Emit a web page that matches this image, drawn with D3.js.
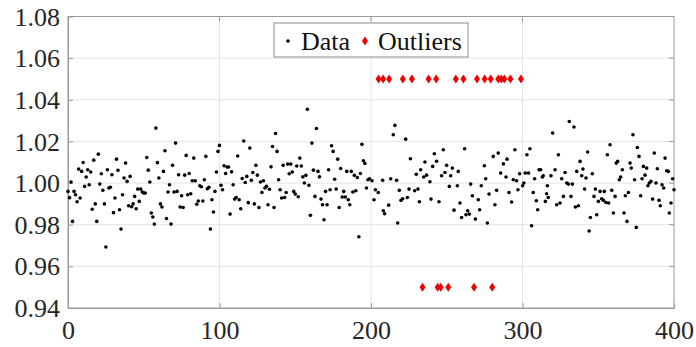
<!DOCTYPE html>
<html><head><meta charset="utf-8">
<script src="https://cdn.jsdelivr.net/npm/d3@7"></script>
<style>html,body{margin:0;padding:0;background:#fff}
svg text{font-family:"Liberation Serif","Times New Roman","DejaVu Serif",serif}</style>
</head><body>
<svg id="c" width="696" height="347"></svg>
<script>
// values for x = 0..199 (one per index)
const dataValues = [
0.996,0.993,1.0005,0.9816,0.996,0.9944,0.991,1.0067,0.9928,1.0056,
1.0099,0.9984,1.0029,1.0064,0.9992,1.0053,0.9874,1.011,0.990,0.9816,
1.0139,0.9995,1.0045,0.9965,0.990,0.9693,1.0064,0.9976,0.998,1.004,
0.9858,0.9928,1.0115,1.0061,0.9872,0.9779,0.9944,1.0024,1.0096,1.0008,
0.9891,1.0032,0.9886,0.990,0.9936,0.9877,0.9971,0.9912,0.9971,0.9957,
0.9952,0.9952,1.0123,1.0062,1.0005,0.9856,0.9837,0.9803,1.0264,1.0098,
1.0024,0.990,0.9885,1.0056,1.0155,0.983,0.9957,0.9992,0.9803,1.0085,
0.9957,1.0192,0.996,1.004,0.9885,0.9939,0.9883,1.0038,1.0133,0.9944,
1.0046,0.9949,1.0011,1.012,1.0011,0.9898,0.9914,0.9987,0.9982,0.9914,
1.0016,1.0128,0.9973,0.998,0.9779,0.992,0.9861,0.996,1.0053,1.0152,
1.0181,
0.9989,0.9968,1.0083,1.0046,1.0077,1.0077,0.9851,1.0054,0.9992,0.9923,
0.9931,1.013,0.992,0.9877,1.0022,1.0202,1.0003,1.0032,0.9906,1.0168,
1.0013,1.0051,0.990,1.0085,1.0038,0.9883,1.0005,0.9955,1.0011,0.9976,
0.9984,0.9896,0.997,1.0078,1.0176,0.9883,1.0238,1.0152,1.0016,0.9968,
0.9928,1.0085,0.9931,0.9955,1.0091,1.0045,1.0091,1.0053,0.996,0.9947,
1.0082,0.9934,1.012,1.0082,1.003,1.000,1.0037,1.0354,0.9989,0.9845,
1.0192,1.0062,0.9936,1.0262,1.0056,1.003,0.9923,0.9896,0.9824,0.996,
0.9896,1.0064,0.9968,1.0179,1.0152,1.0018,0.9971,1.0115,0.9883,1.007,
0.9933,0.996,0.9933,1.0056,0.992,0.9896,1.0056,0.9957,1.0037,0.9963,
1.0027,0.9742,1.0046,1.0186,1.0107,1.0094,0.9976,1.0016,1.0021
];
// second half, read with explicit x positions
const restX = [200.7,202.0,202.9,204.8,207.7,208.1,209.0,211.7,213.0,214.7,215.8,216.9,217.6,218.7,219.8,220.9,222.9,224.0,225.1,226.0,
228.8,229.9,231.0,231.9,232.8,234.8,235.6,236.7,238.9,239.6,240.7,241.8,243.3,244.9,246.6,247.7,248.8,249.9,251.7,252.6,
253.7,254.8,257.0,257.6,258.7,259.8,261.8,262.7,263.8,264.9,265.8,266.9,268.9,270.8,271.7,272.8,274.8,275.7,276.8,277.9,
280.7,281.8,282.9,284.0,285.6,287.4,289.1,289.8,291.1,292.8,293.9,295.0,296.1,297.0,298.1,300.1,300.9,301.8,302.9,304.0,
304.9,306.0,307.1,308.0,309.1,310.0,310.9,312.0,313.1,313.7,315.1,315.9,316.4,317.0,318.8,319.9,321.5,322.6,323.7,324.8,
325.9,327.0,328.1,329.2,330.3,330.9,332.0,332.9,334.0,334.9,335.8,336.9,338.0,339.1,339.9,341.0,341.9,343.0,344.0,344.8,
346.1,347.2,348.1,349.0,350.1,351.2,352.3,353.4,354.0,355.1,356.0,356.9,357.8,358.9,360.0,361.1,361.9,362.8,363.9,364.8,
365.9,367.0,367.9,369.0,369.9,371.0,371.8,372.9,374.0,375.1,375.8,376.9,378.0,378.9,379.8,380.9,382.0,382.8,383.7,384.8,
385.9,387.0,388.1,389.0,390.1,391.0,392.1,393.2,394.1,395.2,396.3,396.9,398.0,399.1,400.0];
const restY = [1.0011,0.992,0.9968,0.9955,1.0013,0.9867,0.9853,0.9894,1.0021,1.0232,1.0277,1.0013,0.9808,0.9965,0.9917,0.9925,1.0211,0.9931,0.9971,1.0117,
0.9963,1.0042,0.9971,0.991,1.0064,1.0029,1.0101,1.0038,1.0006,0.9923,1.008,1.0141,1.0105,0.991,1.0035,1.016,1.0051,1.0085,0.9984,1.0035,
1.0072,0.987,0.9987,1.0056,0.9904,0.9835,1.0165,0.9848,0.9867,0.9851,0.9995,0.9939,0.9827,0.992,0.9872,0.9987,1.0083,1.0021,0.9808,0.9947,
1.0128,0.9896,0.9965,1.0144,1.0048,1.0092,1.0029,1.0115,0.9955,0.9909,1.0016,1.016,1.0011,0.9968,1.0045,0.9987,1.000,1.0048,1.0136,1.0048,
1.0165,0.9795,0.9955,1.0021,0.9915,0.9872,1.0064,1.0064,1.0029,1.0035,0.9912,0.9949,0.9987,0.9931,1.0035,1.024,1.0064,0.9896,1.0136,0.9904,
1.0021,0.9936,1.0051,1.000,0.9995,1.0296,0.9936,0.9995,1.0269,0.9885,1.0056,0.9891,1.0104,1.0035,1.0067,0.9971,1.0024,1.0149,0.977,0.9835,
1.0045,0.9936,0.9971,0.9848,0.9912,0.996,0.9925,0.9917,0.996,0.9907,1.0136,0.9904,1.0184,0.9965,0.9856,0.9936,1.0096,1.0104,1.0016,1.0029,
1.0064,0.9856,0.9939,0.9816,0.9955,1.0096,1.0072,1.0232,1.0016,0.9787,1.0171,1.0128,0.9939,1.0021,1.008,1.0038,1.0072,0.9987,1.000,1.0008,
0.9923,1.0144,1.000,1.0069,0.9917,0.9891,0.9992,0.9976,1.012,1.0059,1.0056,0.9856,0.9904,1.0021,0.9968];
const outlierHighX = [205,208,212,221,227,238,243,256,261,270,275,279,284,286,288,292,299];
const outlierLowX = [234,244,246,251,268,280];
const outlierHighY = 1.05, outlierLowY = 0.95;
const xTicks = [0,100,200,300,400];
const yTicks = [0.94,0.96,0.98,1.00,1.02,1.04,1.06,1.08];
const legendLabels = ["Data","Outliers"];

const points = dataValues.map((v,i)=>[i,v]).concat(restX.map((v,i)=>[v,restY[i]]));

const svg = d3.select("#c");
const L=68,R=674,T=16.5,B=308;
const x = d3.scaleLinear().domain([0,400]).range([L,R]);
const y = d3.scaleLinear().domain([0.94,1.08]).range([B,T]);
const font = '"Liberation Serif","Times New Roman","DejaVu Serif",serif';

const grid = svg.append("g").attr("stroke","#e3e3e3").attr("stroke-width",1);
yTicks.slice(1,-1).forEach(v=>grid.append("line").attr("x1",L).attr("x2",R).attr("y1",y(v)).attr("y2",y(v)));
xTicks.slice(1,-1).forEach(v=>grid.append("line").attr("y1",T).attr("y2",B).attr("x1",x(v)).attr("x2",x(v)));

svg.append("rect").attr("x",L).attr("y",T).attr("width",R-L).attr("height",B-T)
  .attr("fill","none").attr("stroke","#9a9a9a").attr("stroke-width",1);

const xa = svg.append("g").attr("transform",`translate(0,${B})`)
  .call(d3.axisBottom(x).tickValues(xTicks).tickFormat(d3.format("d")).tickSizeInner(-5).tickSizeOuter(0));
const ya = svg.append("g").attr("transform",`translate(${L},0)`)
  .call(d3.axisLeft(y).tickValues(yTicks).tickFormat(d3.format(".2f")).tickSizeInner(-5).tickSizeOuter(0));
[xa,ya].forEach(a=>{
  a.attr("font-family",null).attr("font-size",null);
  a.select(".domain").attr("stroke","#9a9a9a");
  a.selectAll(".tick line").attr("stroke","#9a9a9a");
  a.selectAll("text").style("font-family",font).style("font-size","26px").attr("fill","#262626");
});
xa.selectAll("text").attr("dy","0.95em").attr("y",6);
ya.selectAll("text").attr("x",-8).attr("dy","0.33em");
xTicks.slice(1,-1).forEach(v=>svg.append("line").attr("x1",x(v)).attr("x2",x(v)).attr("y1",T).attr("y2",T+5).attr("stroke","#9a9a9a"));
yTicks.slice(1,-1).forEach(v=>svg.append("line").attr("x1",R).attr("x2",R-5).attr("y1",y(v)).attr("y2",y(v)).attr("stroke","#9a9a9a"));

const diamond = "M0,-4.5L3,0L0,4.5L-3,0Z";

svg.append("g").selectAll("circle").data(points).join("circle")
  .attr("cx",d=>x(d[0])).attr("cy",d=>y(d[1])).attr("r",1.8).attr("fill","#000");

const outs = outlierHighX.map(v=>[v,outlierHighY]).concat(outlierLowX.map(v=>[v,outlierLowY]));
svg.append("g").selectAll("path").data(outs).join("path")
  .attr("d",diamond).attr("transform",d=>`translate(${x(d[0])},${y(d[1])})`).attr("fill","#ee0000");

const lg = svg.append("g");
lg.append("rect").attr("x",274).attr("y",23).attr("width",194).attr("height",34)
  .attr("fill","#fff").attr("stroke","#8c8c8c");
lg.append("circle").attr("cx",288).attr("cy",41).attr("r",1.8).attr("fill","#000");
lg.append("text").attr("x",301).attr("y",49.5).text(legendLabels[0]);
lg.append("path").attr("d",diamond).attr("transform","translate(365,41)").attr("fill","#ee0000");
lg.append("text").attr("x",378).attr("y",49.5).text(legendLabels[1]);
lg.selectAll("text").style("font-family",font).style("font-size","26px").attr("fill","#111");
</script>
</body></html>
